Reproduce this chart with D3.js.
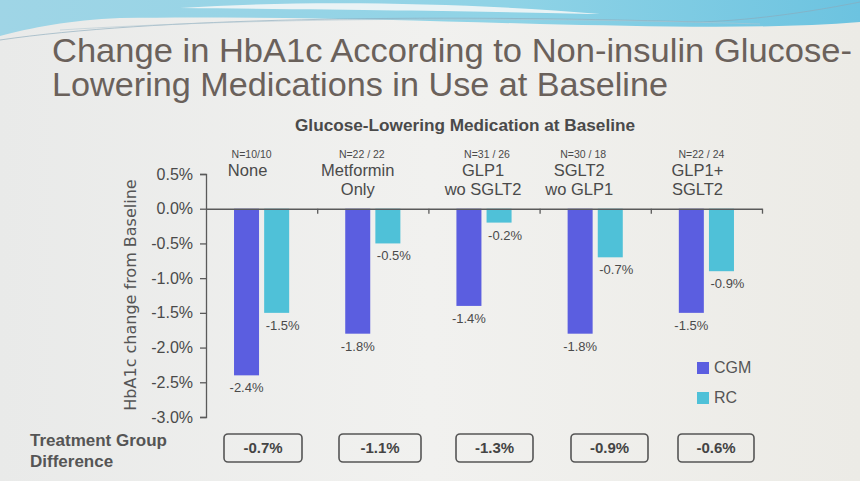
<!DOCTYPE html>
<html><head><meta charset="utf-8">
<script src="https://cdn.jsdelivr.net/npm/d3@7"></script>
<style>
html,body{margin:0;padding:0;background:#efefed;}
svg{display:block;}
</style></head>
<body>
<svg id="c" width="860" height="481"></svg>
<script>
const categories = [["None"],["Metformin","Only"],["GLP1","wo SGLT2"],["SGLT2","wo GLP1"],["GLP1+","SGLT2"]];
const nLabels = ["N=10/10","N=22 / 22","N=31 / 26","N=30 / 18","N=22 / 24"];
const cgm = [-2.4,-1.8,-1.4,-1.8,-1.5];
const rc = [-1.5,-0.5,-0.2,-0.7,-0.9];
const diffs = ["-0.7%","-1.1%","-1.3%","-0.9%","-0.6%"];
const yTicks = [0.5,0.0,-0.5,-1.0,-1.5,-2.0,-2.5,-3.0];
const seriesNames = ["CGM","RC"];
const colors = {CGM:"#5b5ee0", RC:"#4fc1d8"};

const svg = d3.select("#c");
const W = 860, H = 481;

// background
const defs = svg.append("defs");
const bg = defs.append("linearGradient").attr("id","bg").attr("x1","0").attr("x2","1").attr("y1","0").attr("y2","0");
bg.append("stop").attr("offset","0").attr("stop-color","#e9eae9");
bg.append("stop").attr("offset","0.5").attr("stop-color","#f1f1ef");
bg.append("stop").attr("offset","1").attr("stop-color","#ecebe6");
svg.append("rect").attr("width",W).attr("height",H).attr("fill","url(#bg)");
const wave = defs.append("linearGradient").attr("id","wave").attr("x1","0").attr("x2","1");
wave.append("stop").attr("offset","0").attr("stop-color","#9fd5e6");
wave.append("stop").attr("offset","0.6").attr("stop-color","#8fd3e6");
wave.append("stop").attr("offset","1").attr("stop-color","#6cc3e0");
svg.append("path").attr("d","M0,0 L860,0 L860,22 C760,30 640,26 540,24 C400,20 250,16 120,18 C70,20 30,28 0,36 Z").attr("fill","url(#wave)");
svg.append("path").attr("d","M180,8 C300,0 460,2 600,14 C520,12 380,10 180,8 Z").attr("fill","#f3f6f6").attr("opacity",0.9);
svg.append("path").attr("d","M0,40 C150,18 420,14 700,22 C760,20 820,10 860,2").attr("fill","none").attr("stroke","#8aaabc").attr("stroke-width",0.8).attr("opacity",0.8);
svg.append("path").attr("d","M60,30 C250,18 500,16 760,24").attr("fill","none").attr("stroke","#b0c6d0").attr("stroke-width",0.8).attr("opacity",0.7);

// titles
const titleFont = "'Liberation Sans', Arial, sans-serif";
const narrow = "'Liberation Sans Narrow', 'Arial Narrow', 'Liberation Sans', sans-serif";
svg.append("text").attr("x",52).attr("y",62).attr("font-family",titleFont).attr("font-size",33)
  .attr("fill","#6a615b").attr("textLength",800).attr("lengthAdjust","spacingAndGlyphs")
  .text("Change in HbA1c According to Non-insulin Glucose-");
svg.append("text").attr("x",52).attr("y",96).attr("font-family",titleFont).attr("font-size",33)
  .attr("fill","#6a615b").attr("textLength",616).attr("lengthAdjust","spacingAndGlyphs")
  .text("Lowering Medications in Use at Baseline");
svg.append("text").attr("x",295).attr("y",131).attr("font-family",narrow).attr("font-size",16).attr("font-weight","bold")
  .attr("fill","#4a4a4a").attr("textLength",340).attr("lengthAdjust","spacingAndGlyphs")
  .text("Glucose-Lowering Medication at Baseline");

// scales
const x0 = d3.scaleBand().domain(d3.range(categories.length)).range([206,762]).paddingInner(0).paddingOuter(0);
const x1 = d3.scaleBand().domain(seriesNames).range([0,x0.bandwidth()]).paddingInner(0.17).paddingOuter(0.93);
const y = d3.scaleLinear().domain([-3.0,0.5]).range([417,174]);

const axisColor = "#5a5a5a";
const textColor = "#4a4a4a";

// y axis
const yAxis = svg.append("g").attr("transform","translate(206,0)")
  .call(d3.axisLeft(y).tickValues(yTicks).tickSize(6).tickFormat(d => d.toFixed(1)+"%"));
yAxis.select(".domain").attr("stroke",axisColor).attr("stroke-width",1.3);
yAxis.selectAll(".tick line").attr("stroke",axisColor).attr("stroke-width",1.3);
yAxis.selectAll(".tick text").attr("font-family",titleFont).attr("font-size",16).attr("fill",textColor).attr("x",-13);

svg.append("text").attr("transform","translate(136,295) rotate(-90)").attr("text-anchor","middle")
  .attr("font-family","'DejaVu Sans', sans-serif").attr("font-size",16).attr("fill","#555")
  .text("HbA1c change from Baseline");

// bars
const groups = svg.append("g").selectAll("g").data(categories).join("g")
  .attr("transform",(d,i)=>`translate(${x0(i)},0)`);
const barData = (d,i) => [{s:"CGM",v:cgm[i]},{s:"RC",v:rc[i]}];
groups.selectAll("rect").data(barData).join("rect")
  .attr("x",d=>x1(d.s)).attr("width",x1.bandwidth())
  .attr("y",y(0)).attr("height",d=>y(d.v)-y(0))
  .attr("fill",d=>colors[d.s]);
groups.selectAll("text.val").data(barData).join("text").attr("class","val")
  .attr("x",d=>x1(d.s)+x1.bandwidth()/2 + (d.s==="RC"?6:0)).attr("y",d=>y(d.v)+17)
  .attr("text-anchor","middle").attr("font-family",titleFont).attr("font-size",13).attr("fill",textColor)
  .text(d=>d.v.toFixed(1)+"%");

// zero line with category ticks
const xAxis = svg.append("g").attr("transform",`translate(0,${y(0)})`)
  .call(d3.axisBottom(d3.scaleLinear().domain([0,categories.length]).range([206,762]))
    .tickValues(d3.range(1,categories.length+1)).tickSize(5).tickFormat("").tickSizeOuter(0));
xAxis.select(".domain").attr("stroke",axisColor).attr("stroke-width",1.4);
xAxis.selectAll(".tick line").attr("stroke",axisColor).attr("stroke-width",1.3);

// category labels
const labelShift = [-14,-15,-1,-16,-9];
categories.forEach((lines,i)=>{
  const cx = x0(i)+x0.bandwidth()/2 + labelShift[i];
  svg.append("text").attr("x",cx+4).attr("y",158).attr("text-anchor","middle")
    .attr("font-family",narrow).attr("font-size",10.5).attr("fill",textColor).text(nLabels[i]);
  lines.forEach((t,j)=>{
    svg.append("text").attr("x",cx).attr("y",176+j*19).attr("text-anchor","middle")
      .attr("font-family",titleFont).attr("font-size",16.5).attr("fill",textColor).text(t);
  });
});

// legend
seriesNames.forEach((s,i)=>{
  const ly = 362+i*30;
  svg.append("rect").attr("x",697).attr("y",ly).attr("width",12).attr("height",12).attr("fill",colors[s]);
  svg.append("text").attr("x",714).attr("y",ly+11).attr("font-family",titleFont).attr("font-size",16)
    .attr("fill","#555").text(s);
});

// treatment group difference
svg.append("text").attr("x",30).attr("y",446).attr("font-family",narrow).attr("font-size",17).attr("font-weight","bold")
  .attr("fill","#555").text("Treatment Group");
svg.append("text").attr("x",30).attr("y",467).attr("font-family",narrow).attr("font-size",17).attr("font-weight","bold")
  .attr("fill","#555").text("Difference");
const boxX = [224,339,456,571,678];
const boxW = [78,82,77,77,76];
diffs.forEach((t,i)=>{
  svg.append("rect").attr("x",boxX[i]).attr("y",434).attr("width",boxW[i]).attr("height",28).attr("rx",4)
    .attr("fill","none").attr("stroke","#555").attr("stroke-width",1.6);
  svg.append("text").attr("x",boxX[i]+boxW[i]/2).attr("y",453).attr("text-anchor","middle")
    .attr("font-family",narrow).attr("font-size",15).attr("font-weight","bold").attr("fill","#444").text(t);
});
</script>
</body></html>
